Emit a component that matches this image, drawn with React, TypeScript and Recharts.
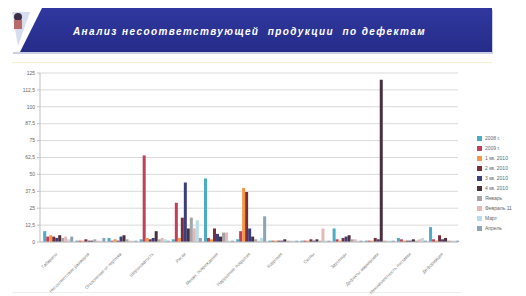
import React from 'react';
import { BarChart, Bar, XAxis, YAxis, CartesianGrid } from 'recharts';

const categories = [
  'Габариты',
  'Несоответствие размеров',
  'Отклонение от чертежа',
  'Шероховатость',
  'Риски',
  'Механ. повреждения',
  'Нарушение покрытия',
  'Коррозия',
  'Сколы',
  'Заусенцы',
  'Дефекты маркировки',
  'Некомплектность поставки',
  'Деформация',
];

const seriesNames = [
  '2008 г.',
  '2009 г.',
  '1 кв. 2010',
  '2 кв. 2010',
  '3 кв. 2010',
  '4 кв. 2010',
  'Январь',
  'Февраль 11',
  'Март',
  'Апрель',
];

const seriesColors = [
  '#4BACC6',
  '#C0405A',
  '#F79646',
  '#7A2E3A',
  '#3B3F7E',
  '#4A2F3C',
  '#A5A5A5',
  '#E6B9B8',
  '#B7DEE8',
  '#8EA2B8',
];

const s1 = [8, 1, 3, 2, 2, 47, 2, 1, 1, 10, 1, 3, 11];
const s2 = [4, 1, 1, 64, 29, 3, 8, 1, 1, 2, 1, 2, 2];
const s3 = [5, 1, 2, 3, 3, 2, 40, 1, 1, 1, 1, 1, 1];
const s4 = [4, 2, 1, 2, 18, 10, 37, 1, 2, 3, 3, 1, 5];
const s5 = [3, 1, 4, 3, 44, 6, 10, 1, 1, 4, 2, 1, 2];
const s6 = [5, 1, 5, 8, 10, 4, 4, 2, 2, 5, 120, 2, 3];
const s7 = [3, 2, 2, 2, 18, 7, 2, 1, 1, 2, 1, 1, 1];
const s8 = [4, 1, 1, 3, 10, 7, 1, 1, 10, 2, 1, 2, 1];
const s9 = [2, 1, 1, 2, 16, 1, 3, 1, 1, 1, 1, 3, 1];
const s10 = [4, 3, 1, 1, 3, 1, 19, 1, 1, 1, 1, 1, 1];

const seriesValues = [s1, s2, s3, s4, s5, s6, s7, s8, s9, s10];
const yTicks = [0, 12.5, 25, 37.5, 50, 62.5, 75, 87.5, 100, 112.5, 125];
const titleText = 'Анализ несоответствующей  продукции  по дефектам';

const data = categories.map((c, i) => {
  const row: Record<string, string | number> = { name: c };
  seriesValues.forEach((vals, k) => {
    row['s' + (k + 1)] = vals[i];
  });
  return row;
});

const XTick = (props: any) => {
  const { x, y, payload } = props;
  return (
    <g transform={`translate(${x},${y + 3})`}>
      <text
        x={0}
        y={0}
        dy={2}
        textAnchor="end"
        fontSize={4.5}
        fill="#808080"
        fontFamily="Arial, 'Liberation Sans', sans-serif"
        transform="rotate(-45)"
      >
        {payload.value}
      </text>
    </g>
  );
};

export default function App() {
  return (
    <div style={{ position: 'absolute', left: 0, top: 0, width: 526, height: 296, background: '#fff', overflow: 'hidden' }}>
      <svg width={526} height={60} style={{ position: 'absolute', left: 0, top: 0 }}>
        <defs>
          <linearGradient id="bnr" x1="0" y1="0" x2="0" y2="1">
            <stop offset="0" stopColor="#3038A0" />
            <stop offset="1" stopColor="#252C88" />
          </linearGradient>
        </defs>
        <rect x={13} y={10} width={480} height={44} fill="#9aa0c8" opacity={0.5} />
        <rect x={12} y={8} width={480} height={44} fill="url(#bnr)" />
        <polygon points="12,8 42,8 20,52 12,52" fill="#ffffff" />
        <polygon points="12,12 30,12 18,46" fill="#d8dcef" />
        <circle cx={18} cy={17} r={4} fill="#3a2f45" />
        <rect x={14} y={20} width={8} height={9} fill="#b86a6a" />
        <text
          x={73}
          y={35}
          fill="#ffffff"
          fontSize={10}
          letterSpacing={1.4}
          fontStyle="italic"
          fontWeight="bold"
          fontFamily="Arial, 'Liberation Sans', sans-serif"
          style={{ whiteSpace: 'pre' }}
        >
          {titleText}
        </text>
      </svg>
      <div style={{ position: 'absolute', left: 12, top: 62, width: 480, height: 1, background: '#f5f0d0' }} />
      <div style={{ position: 'absolute', left: 12, top: 292, width: 450, height: 1, background: '#eeeeee' }} />
      <div style={{ position: 'absolute', left: 0, top: 0 }}>
        <BarChart
          width={526}
          height={296}
          data={data}
          margin={{ top: 73, right: 68, bottom: 0, left: 22 }}
          barCategoryGap="10%"
          barGap={0}
        >
          <CartesianGrid vertical={false} stroke="#d9d9d9" strokeWidth={1} />
          <YAxis
            width={18}
            domain={[0, 125]}
            ticks={yTicks}
            interval={0}
            tick={{ fontSize: 5, fill: '#666', fontFamily: 'Arial, sans-serif' }}
            tickFormatter={(v: number) => String(v).replace('.', ',')}
            axisLine={{ stroke: '#bfbfbf' }}
            tickLine={{ stroke: '#bfbfbf' }}
            tickSize={3}
          />
          <XAxis
            dataKey="name"
            interval={0}
            tick={<XTick />}
            axisLine={{ stroke: '#bfbfbf' }}
            tickLine={false}
            height={54}
          />
          {seriesNames.map((n, i) => (
            <Bar
              key={n}
              dataKey={'s' + (i + 1)}
              name={n}
              fill={seriesColors[i]}
              isAnimationActive={false}
            />
          ))}
        </BarChart>
      </div>
      <div
        style={{
          position: 'absolute',
          left: 477,
          top: 133,
          fontFamily: "Arial, 'Liberation Sans', sans-serif",
          fontSize: 5,
          color: '#666',
        }}
      >
        {seriesNames.map((n, i) => (
          <div key={n} style={{ display: 'flex', alignItems: 'center', height: 10 }}>
            <span
              style={{
                display: 'inline-block',
                width: 5,
                height: 5,
                background: seriesColors[i],
                marginRight: 3,
              }}
            />
            <span>{n}</span>
          </div>
        ))}
      </div>
    </div>
  );
}
